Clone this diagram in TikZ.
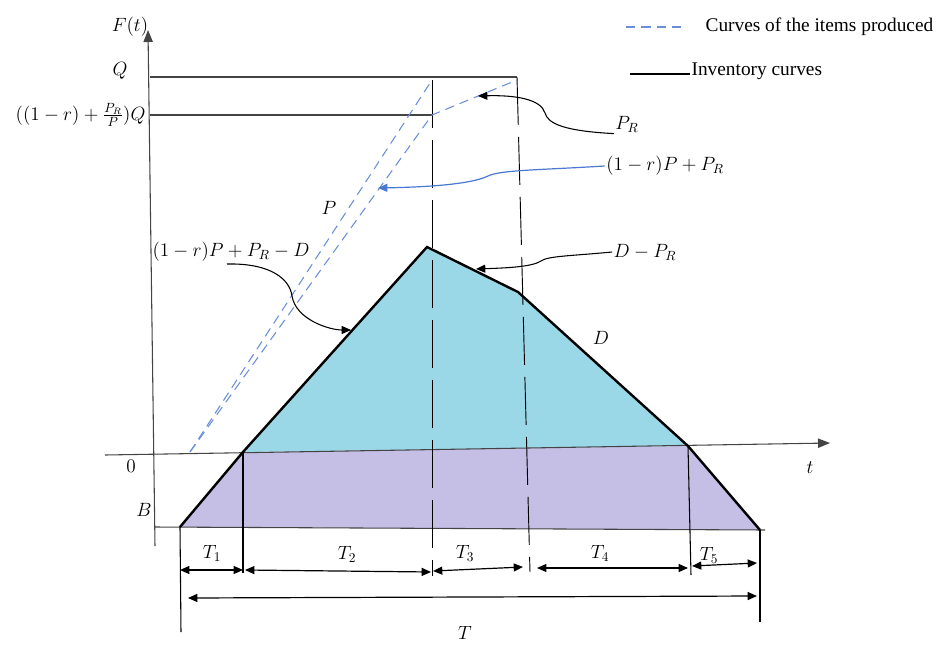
\documentclass[tikz,border=0pt]{standalone}
\usepackage[no-math]{fontspec}
\setmainfont{Liberation Serif}
\usetikzlibrary{arrows.meta}
\definecolor{cyanfill}{HTML}{9AD8E8}
\definecolor{purplefill}{HTML}{C5BEE5}
\definecolor{prodblue}{HTML}{6A8FD8}
\definecolor{arrblue}{HTML}{4A78D0}
\definecolor{axisgray}{HTML}{444444}
\begin{document}
\begin{tikzpicture}[x=0.75pt,y=-0.75pt,
  tip/.style={-{Triangle[length=7pt,width=6pt]}},
  dimline/.style={{Triangle[length=7pt,width=6pt]}-{Triangle[length=7pt,width=6pt]}, line width=0.9pt},
  axisline/.style={draw=axisgray, line width=0.8pt},
  invline/.style={line width=1.8pt, line join=miter},
  proddash/.style={draw=prodblue, line width=0.8pt, dash pattern=on 7pt off 4.5pt},
  vdash/.style={line width=0.7pt, dash pattern=on 36pt off 9pt},
  mlabel/.style={font=\fontsize{13.8}{16}\selectfont, inner sep=1pt},
  tlabel/.style={font=\fontsize{14.5}{16}\selectfont, inner sep=1pt}]
\useasboundingbox (0,0) rectangle (940,644);
\clip (0,0) rectangle (940,644);

% key points
\coordinate (A1) at (180,527);
\coordinate (A2) at (243,452);
\coordinate (Pk) at (427,247);
\coordinate (K) at (518,292);
\coordinate (A5) at (688,446);
\coordinate (A6) at (760,530);

% fills
\fill[purplefill] (A1) -- (A2) -- (A5) -- (A6) -- cycle;
\fill[cyanfill] (A2) -- (Pk) -- (K) -- (A5) -- cycle;

% axes
\coordinate (xs) at (105,455);
\coordinate (xe) at (830,443);
\coordinate (ys) at (155,546);
\coordinate (ye) at (148,30);
\draw[axisline, -{Triangle[length=9pt,width=7pt]}] (xs) -- (xe);
\draw[axisline, -{Triangle[length=9pt,width=7pt]}] (ys) -- (ye);
\coordinate (bs) at (155,527);
\coordinate (be) at (765,530);
\draw[axisline] (bs) -- (be);

% Q lines
\coordinate (q0) at (150,77);
\coordinate (q1) at (517,77);
\coordinate (r0) at (150,115);
\coordinate (r1) at (432,115);
\draw[axisline] (q0) -- (q1);
\draw[axisline] (r0) -- (r1);

% vertical guide lines
\coordinate (v1a) at (432,80);
\coordinate (v1b) at (432,576);
\draw[vdash] (v1a) -- (v1b);
\coordinate (v2b) at (530,572);
\draw[vdash] (q1) -- (v2b);
\coordinate (v0a) at (180,527);
\coordinate (v0b) at (181,632);
\draw[line width=0.8pt] (v0a) -- (v0b);
\coordinate (v3b) at (243,573);
\draw[line width=0.8pt] (A2) -- (v3b);
\coordinate (v4b) at (691,575);
\draw[line width=0.8pt] (A5) -- (v4b);
\coordinate (v5b) at (760,622);
\draw[line width=0.8pt] (A6) -- (v5b);

% production (dashed blue) lines
\coordinate (p0) at (190,452);
\coordinate (p1) at (432,80);
\coordinate (p3) at (517,80);
\draw[proddash] (p0) -- (p1);
\draw[proddash] (p0) -- (r1) -- (p3);

% inventory curve
\draw[invline] (A1) -- (A2) -- (Pk) -- (K) -- (A5) -- (A6);

% axis labels
\node[mlabel] (Ft) at (130,27) {$F(t)$};
\node[mlabel] (lQ) at (120,71) {$Q$};
\node[mlabel, anchor=east] (lQ2) at (147,115) {$((1-r)+\frac{P_R}{P})Q$};
\node[mlabel] (l0) at (131,466) {$0$};
\node[mlabel] (lB) at (144,510) {$B$};
\node[mlabel] (lt) at (810,468) {$t$};

% curve labels
\node[mlabel] (lP) at (329,208) {$P$};
\node[mlabel] (lPD) at (231,252) {$(1-r)P+P_R-D$};
\node[mlabel] (lPR) at (627,124) {$P_R$};
\node[mlabel] (lPP) at (665,166) {$(1-r)P+P_R$};
\node[mlabel] (lDP) at (645,252) {$D-P_R$};
\node[mlabel] (lD) at (601,338) {$D$};

% curved arrows
\coordinate (tPR) at (478,96);
\draw[tip, line width=0.8pt] (lPR.south west) .. controls (565,131) and (548,124) .. (545,113) .. controls (541,99) and (515,95) .. (tPR);
\coordinate (tPP) at (378,188);
\draw[tip, draw=arrblue, line width=0.9pt] (lPP.west) .. controls (540,170) and (500,170) .. (488,176) .. controls (472,184) and (430,187) .. (tPP);
\coordinate (tDP) at (476,269);
\draw[tip, line width=0.8pt] (lDP.west) .. controls (570,256) and (548,256) .. (541,261) .. controls (532,267) and (505,268) .. (tDP);
\coordinate (tPD) at (351,330);
\coordinate (sPD) at (227,264);
\draw[tip, line width=0.8pt] (sPD) .. controls (272,263) and (290,280) .. (292,296) .. controls (296,320) and (330,330) .. (tPD);

% dimension arrows
\coordinate (d1a) at (180,570); \coordinate (d1b) at (243,570);
\coordinate (d2a) at (245,570); \coordinate (d2b) at (431,572);
\coordinate (d3a) at (433,571); \coordinate (d3b) at (523,567);
\coordinate (d4a) at (537,568); \coordinate (d4b) at (688,568);
\coordinate (d5a) at (692,566); \coordinate (d5b) at (757,563);
\coordinate (dTa) at (188,598); \coordinate (dTb) at (757,596);
\draw[dimline] (d1a) -- (d1b);
\draw[dimline] (d2a) -- (d2b);
\draw[dimline] (d3a) -- (d3b);
\draw[dimline] (d4a) -- (d4b);
\draw[dimline] (d5a) -- (d5b);
\draw[dimline] (dTa) -- (dTb);
\node[mlabel] (lT1) at (212,553) {$T_1$};
\node[mlabel] (lT2) at (347,554) {$T_2$};
\node[mlabel] (lT3) at (465,553) {$T_3$};
\node[mlabel] (lT4) at (600,553) {$T_4$};
\node[mlabel] (lT5) at (709,555) {$T_5$};
\node[mlabel] (lT) at (465,633) {$T$};

% legend
\coordinate (lg1a) at (626,27);
\coordinate (lg1b) at (682,27);
\draw[proddash] (lg1a) -- (lg1b);
\node[tlabel, anchor=west] (lgt1) at (704,27) {Curves of the items produced};
\coordinate (lg2a) at (630,74);
\coordinate (lg2b) at (690,74);
\draw[line width=1.4pt] (lg2a) -- (lg2b);
\node[tlabel, anchor=west] (lgt2) at (690,71) {Inventory curves};
\end{tikzpicture}
\end{document}
